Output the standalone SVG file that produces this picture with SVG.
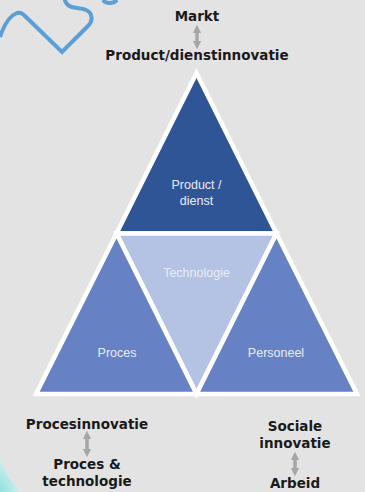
<svg xmlns="http://www.w3.org/2000/svg" width="365" height="492" viewBox="0 0 365 492">
<defs>
<style>
.lbl{font-family:"DejaVu Sans","Open Sans",sans-serif;font-weight:bold;font-size:13.5px;fill:#1a1a1a;text-anchor:middle}
.in{font-family:"Liberation Sans","Noto Sans",sans-serif;font-size:12.5px;fill:#e9edf6;text-anchor:middle}
.tri{stroke:#ffffff;stroke-width:4.5;stroke-linejoin:miter}
.arr{stroke:#a6a6a6;stroke-width:3.5;fill:none;marker-start:url(#ah);marker-end:url(#ah)}
</style>
<marker id="ah" viewBox="0 0 10 10" refX="5" refY="5" markerWidth="2.4" markerHeight="2.4" orient="auto-start-reverse" markerUnits="strokeWidth">
<path d="M0,0 L10,5 L0,10 z" fill="#a6a6a6"/>
</marker>
<radialGradient id="cy" cx="0" cy="1" r="1">
<stop offset="0" stop-color="#8fe0e0"/>
<stop offset="1" stop-color="#d8f0f0"/>
</radialGradient>
</defs>
<rect width="365" height="492" fill="#e3e3e3"/>
<path d="M0,455 Q6,480 22,492 L0,492 Z" fill="url(#cy)"/>
<g id="deco">
<path d="M0,37 C3,28 9,16 17,13 C21,12 23,14 26,17 L62,52 L88,26 C93,21 93,13 86,10 C80,7 72,9 68,5 C66,3 65,1 65,0" fill="none" stroke="#5b9fd8" stroke-width="4"/>
<path d="M103,0 C106,4 113,4 117,0" fill="none" stroke="#5b9fd8" stroke-width="4"/>
</g>
<g id="connectors">
<line class="arr" x1="197" y1="29" x2="197" y2="45"/>
<line class="arr" x1="87" y1="435" x2="87" y2="453"/>
<line class="arr" x1="295" y1="456" x2="295" y2="472"/>
</g>
<g id="product">
<polygon class="tri" points="196.5,73 116.5,233.5 276.5,233.5" fill="#2f5597"/>
<text class="in" x="196.5" y="189">Product /</text>
<text class="in" x="196.5" y="205">dienst</text>
</g>
<g id="technologie">
<polygon class="tri" points="116.5,233.5 276.5,233.5 196.5,394" fill="#b4c2e3"/>
<text class="in" x="196.5" y="277">Technologie</text>
</g>
<g id="proces">
<polygon class="tri" points="116.5,233.5 36,394 196.5,394" fill="#6682c4"/>
<text class="in" x="117" y="357">Proces</text>
</g>
<g id="personeel">
<polygon class="tri" points="276.5,233.5 196.5,394 357,394" fill="#6682c4"/>
<text class="in" x="276" y="357">Personeel</text>
</g>
<g id="markt"><text class="lbl" x="197" y="21">Markt</text></g>
<g id="productinnovatie"><text class="lbl" x="197" y="60">Product/dienstinnovatie</text></g>
<g id="procesinnovatie"><text class="lbl" x="87" y="429">Procesinnovatie</text></g>
<g id="procestech"><text class="lbl" x="87" y="469">Proces &amp;</text><text class="lbl" x="87" y="486">technologie</text></g>
<g id="sociale"><text class="lbl" x="295" y="431">Sociale</text><text class="lbl" x="295" y="448">innovatie</text></g>
<g id="arbeid"><text class="lbl" x="295" y="488">Arbeid</text></g>
</svg>
